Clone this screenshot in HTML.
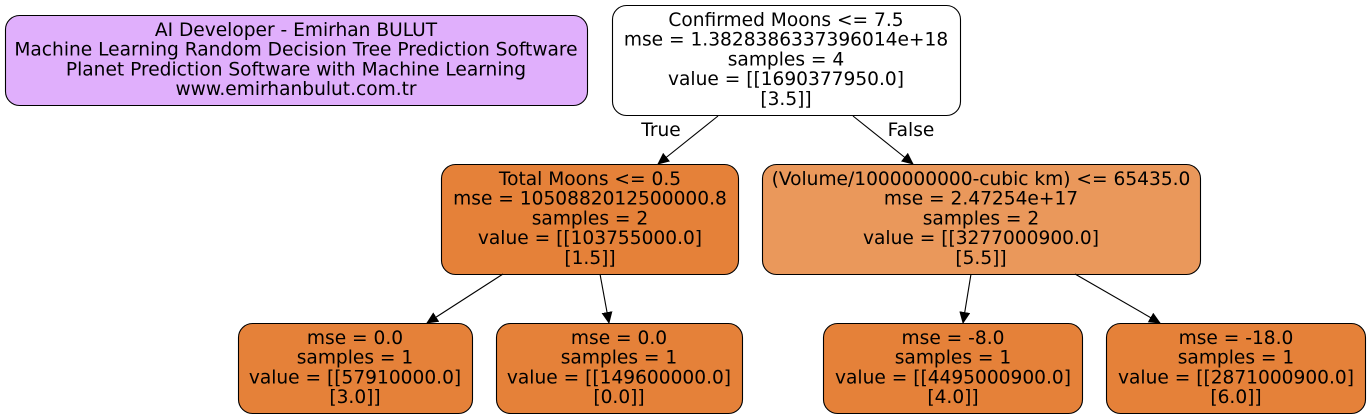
<!DOCTYPE html>
<html><head><meta charset="utf-8"><style>html,body{margin:0;padding:0;background:#fff}svg{display:block}</style></head><body>
<svg width="1370" height="419" viewBox="0 0 1370 419" xmlns="http://www.w3.org/2000/svg" font-family="'DejaVu Sans','Liberation Sans',sans-serif" font-size="18.6" text-anchor="middle">
<defs><marker id="a" markerWidth="12" markerHeight="11" refX="11" refY="5.5" orient="auto" markerUnits="userSpaceOnUse"><path d="M0,0 L12,5.5 L0,11 z" fill="#000"/></marker></defs>
<g stroke="#000" stroke-width="1.1">
<rect x="5.5" y="15.5" width="582" height="90" rx="14" fill="#e0affc"/>
<rect x="612.5" y="5.5" width="348" height="110" rx="14" fill="#fff"/>
<rect x="441.5" y="164.5" width="297" height="110" rx="14" fill="#e58139"/>
<rect x="762.5" y="164.5" width="438" height="110" rx="14" fill="#ea985b"/>
<rect x="238.5" y="323.5" width="234" height="90" rx="14" fill="#e58139"/>
<rect x="496.5" y="323.5" width="246" height="90" rx="14" fill="#e58139"/>
<rect x="823.5" y="323.5" width="259" height="90" rx="14" fill="#e58139"/>
<rect x="1106.5" y="323.5" width="259" height="90" rx="14" fill="#e58139"/>
<line x1="718" y1="116" x2="658" y2="164" marker-end="url(#a)"/>
<line x1="853" y1="116" x2="913" y2="164" marker-end="url(#a)"/>
<line x1="503" y1="274" x2="427" y2="323" marker-end="url(#a)"/>
<line x1="600" y1="274" x2="609" y2="323" marker-end="url(#a)"/>
<line x1="971" y1="274" x2="963" y2="323" marker-end="url(#a)"/>
<line x1="1075" y1="274" x2="1160" y2="323" marker-end="url(#a)"/>
</g>
<g fill="#000">
<text x="296" y="36">AI Developer - Emirhan BULUT</text>
<text x="296" y="55.7">Machine Learning Random Decision Tree Prediction Software</text>
<text x="296" y="75.4">Planet Prediction Software with Machine Learning</text>
<text x="296" y="95.1">www.emirhanbulut.com.tr</text>

<text x="786" y="26">Confirmed Moons &lt;= 7.5</text>
<text x="786" y="45.7">mse = 1.3828386337396014e+18</text>
<text x="786" y="65.4">samples = 4</text>
<text x="786" y="85.1">value = [[1690377950.0]</text>
<text x="786" y="104.8">[3.5]]</text>

<text x="661" y="136">True</text>
<text x="911" y="136">False</text>

<text x="590" y="185">Total Moons &lt;= 0.5</text>
<text x="590" y="204.7">mse = 1050882012500000.8</text>
<text x="590" y="224.4">samples = 2</text>
<text x="590" y="244.1">value = [[103755000.0]</text>
<text x="590" y="263.8">[1.5]]</text>

<text x="981" y="185">(Volume/1000000000-cubic km) &lt;= 65435.0</text>
<text x="981" y="204.7">mse = 2.47254e+17</text>
<text x="981" y="224.4">samples = 2</text>
<text x="981" y="244.1">value = [[3277000900.0]</text>
<text x="981" y="263.8">[5.5]]</text>

<text x="355" y="344">mse = 0.0</text>
<text x="355" y="363.7">samples = 1</text>
<text x="355" y="383.4">value = [[57910000.0]</text>
<text x="355" y="403.1">[3.0]]</text>

<text x="619" y="344">mse = 0.0</text>
<text x="619" y="363.7">samples = 1</text>
<text x="619" y="383.4">value = [[149600000.0]</text>
<text x="619" y="403.1">[0.0]]</text>

<text x="953" y="344">mse = -8.0</text>
<text x="953" y="363.7">samples = 1</text>
<text x="953" y="383.4">value = [[4495000900.0]</text>
<text x="953" y="403.1">[4.0]]</text>

<text x="1236" y="344">mse = -18.0</text>
<text x="1236" y="363.7">samples = 1</text>
<text x="1236" y="383.4">value = [[2871000900.0]</text>
<text x="1236" y="403.1">[6.0]]</text>
</g>
</svg>
</body></html>
